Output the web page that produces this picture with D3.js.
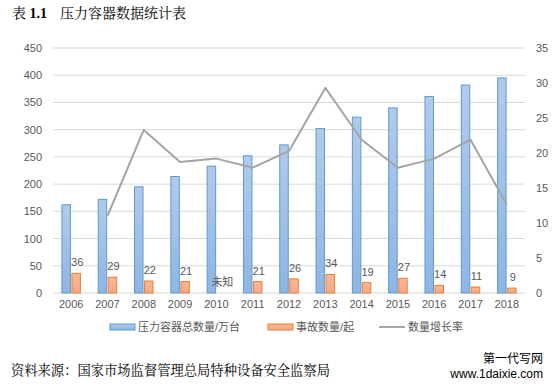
<!DOCTYPE html>
<html>
<head>
<meta charset="utf-8">
<script src="https://cdn.jsdelivr.net/npm/d3@7"></script>
<style>
  body { margin: 0; background: #fff; }
  svg text { font-family: "Liberation Sans", "Noto Sans CJK SC", sans-serif; }
</style>
</head>
<body>
<div id="chart"></div>
<script>
// data
const years = ["2006","2007","2008","2009","2010","2011","2012","2013","2014","2015","2016","2017","2018"];
const vessels = [162, 172, 195, 214, 233, 252, 272, 302, 323, 340, 361, 382, 395];
const accidents = [36, 29, 22, 21, null, 21, 26, 34, 19, 27, 14, 11, 9];
const growth = [null, 11.0, 23.3, 18.7, 19.2, 17.9, 20.3, 29.3, 21.9, 17.9, 19.2, 21.9, 12.6];
const leftTicks = [0, 50, 100, 150, 200, 250, 300, 350, 400, 450];
const rightTicks = [0, 5, 10, 15, 20, 25, 30, 35];
const legendNames = ["压力容器总数量/万台", "事故数量/起", "数量增长率"];

const W = 555, H = 389;
const m = { left: 53, right: 525, top: 48, bottom: 293 };

const svg = d3.select("#chart").append("svg").attr("width", W).attr("height", H);

const defs = svg.append("defs");
const gb = defs.append("linearGradient").attr("id", "gb").attr("x1", 0).attr("y1", 0).attr("x2", 0).attr("y2", 1);
gb.append("stop").attr("offset", "0%").attr("stop-color", "#b1cbe9");
gb.append("stop").attr("offset", "100%").attr("stop-color", "#8fb5e2");
const go = defs.append("linearGradient").attr("id", "go").attr("x1", 0).attr("y1", 0).attr("x2", 0).attr("y2", 1);
go.append("stop").attr("offset", "0%").attr("stop-color", "#f9b999");
go.append("stop").attr("offset", "100%").attr("stop-color", "#f4a885");

const x = d3.scaleBand().domain(years).range([m.left, m.right]);
const yL = d3.scaleLinear().domain([0, 450]).range([m.bottom, m.top]);
const yR = d3.scaleLinear().domain([0, 35]).range([m.bottom, m.top]);

// gridlines
svg.append("g").selectAll("line").data(leftTicks).join("line")
  .attr("x1", m.left).attr("x2", m.right)
  .attr("y1", d => yL(d)).attr("y2", d => yL(d))
  .attr("stroke", "#d9d9d9").attr("stroke-width", 1);

// left axis
const axL = svg.append("g").attr("transform", `translate(${m.left - 8},0)`)
  .call(d3.axisLeft(yL).tickValues(leftTicks).tickSize(0));
axL.select(".domain").remove();
axL.selectAll("text").attr("fill", "#595959").style("font-size", "11px");

// right axis
const axR = svg.append("g").attr("transform", `translate(${m.right + 8},0)`)
  .call(d3.axisRight(yR).tickValues(rightTicks).tickSize(0));
axR.select(".domain").remove();
axR.selectAll("text").attr("fill", "#595959").style("font-size", "11px");

// bottom axis
const axB = svg.append("g").attr("transform", `translate(0,${m.bottom + 4})`)
  .call(d3.axisBottom(x).tickSize(0));
axB.select(".domain").remove();
axB.selectAll("text").attr("fill", "#595959").style("font-size", "11px");

const bw = 8.5, gap = 1.5;
const cx = d => x(d) + x.bandwidth() / 2;

// blue bars
svg.append("g").selectAll("rect").data(years).join("rect")
  .attr("x", (d) => cx(d) - gap / 2 - bw)
  .attr("width", bw)
  .attr("y", (d, i) => yL(vessels[i]))
  .attr("height", (d, i) => m.bottom - yL(vessels[i]))
  .attr("fill", "url(#gb)").attr("stroke", "#5b9bd5").attr("stroke-width", 1);

// orange bars
svg.append("g").selectAll("rect").data(years.filter((d, i) => accidents[i] != null)).join("rect")
  .attr("x", d => cx(d) + gap / 2)
  .attr("width", bw)
  .attr("y", d => yL(accidents[years.indexOf(d)]))
  .attr("height", d => m.bottom - yL(accidents[years.indexOf(d)]))
  .attr("fill", "url(#go)").attr("stroke", "#ed7d31").attr("stroke-width", 1);

// orange labels
svg.append("g").selectAll("text").data(years).join("text")
  .attr("x", d => cx(d) + gap / 2 + bw / 2 + 1)
  .attr("y", (d, i) => yL(accidents[i] == null ? 0 : accidents[i]) - 7)
  .attr("text-anchor", "middle")
  .attr("fill", "#595959").style("font-size", "11px")
  .text((d, i) => accidents[i] == null ? "未知" : accidents[i]);

// growth line
const line = d3.line()
  .defined(d => d[1] != null)
  .x(d => cx(d[0]))
  .y(d => yR(d[1]));
svg.append("path").datum(years.map((d, i) => [d, growth[i]]))
  .attr("d", line).attr("fill", "none")
  .attr("stroke", "#a5a5a5").attr("stroke-width", 2).attr("stroke-linejoin", "round");

// legend
const lg = svg.append("g").attr("transform", "translate(0,327)");
lg.append("rect").attr("x", 110).attr("y", -3).attr("width", 25).attr("height", 6)
  .attr("fill", "url(#gb)").attr("stroke", "#5b9bd5");
lg.append("text").attr("x", 138).attr("y", 4).attr("fill", "#595959").style("font-size", "11px").text(legendNames[0]);
lg.append("rect").attr("x", 268).attr("y", -3).attr("width", 25).attr("height", 6)
  .attr("fill", "url(#go)").attr("stroke", "#ed7d31");
lg.append("text").attr("x", 296).attr("y", 4).attr("fill", "#595959").style("font-size", "11px").text(legendNames[1]);
lg.append("line").attr("x1", 379).attr("x2", 405).attr("y1", 0).attr("y2", 0)
  .attr("stroke", "#a5a5a5").attr("stroke-width", 2);
lg.append("text").attr("x", 408).attr("y", 4).attr("fill", "#595959").style("font-size", "11px").text(legendNames[2]);

// title
const t = svg.append("text").attr("x", 12).attr("y", 18).attr("fill", "#000")
  .style("white-space", "pre")
  .style("font-size", "14px").style("font-family", "'Noto Serif CJK SC','Noto Sans CJK SC',serif");
t.append("tspan").text("表 ");
t.append("tspan").style("font-weight", "bold").style("font-family", "'Liberation Serif',serif").text("1.1");
t.append("tspan").attr("x", 60).text("压力容器数据统计表");

// footer
svg.append("text").attr("x", 11).attr("y", 375).attr("fill", "#000")
  .attr("textLength", 319).attr("lengthAdjust", "spacingAndGlyphs")
  .style("font-size", "14px").style("font-family", "'Noto Serif CJK SC','Noto Sans CJK SC',serif")
  .text("资料来源：国家市场监督管理总局特种设备安全监察局");

// watermark
svg.append("text").attr("x", 543).attr("y", 363).attr("text-anchor", "end")
  .style("font-size", "12px").attr("fill", "#000").text("第一代写网");
svg.append("text").attr("x", 543).attr("y", 378).attr("text-anchor", "end")
  .style("font-size", "12px").attr("fill", "#000").text("www.1daixie.com");
</script>
</body>
</html>
